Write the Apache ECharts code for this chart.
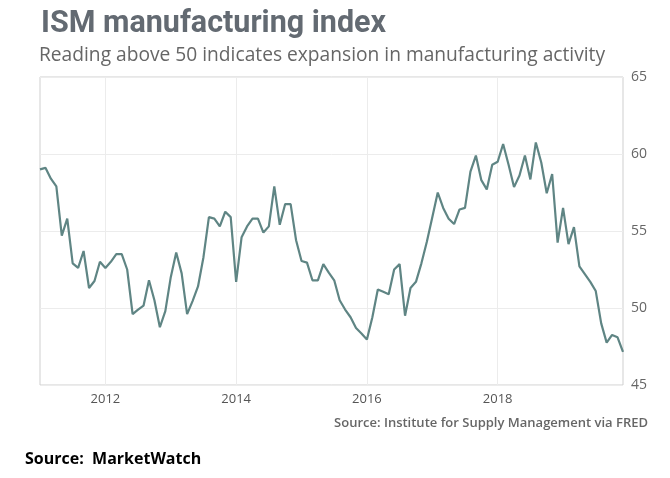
<!DOCTYPE html>
<html>
<head>
<meta charset="utf-8">
<script src="https://cdn.jsdelivr.net/npm/echarts@6/dist/echarts.min.js"></script>
<style>html,body{margin:0;padding:0;background:#fff}#c{width:670px;height:478px}</style>
</head>
<body>
<div id="c"></div>
<script>
// Monthly ISM manufacturing index, Jan 2011 - Dec 2019
const startYear = 2011;
const v2011 = [59.0, 59.1, 58.4, 57.9, 54.7, 55.8, 52.9, 52.6, 53.7, 51.3, 51.75, 53.0];
const v2012 = [52.6, 53.0, 53.5, 53.5, 52.5, 49.6, 49.9, 50.15, 51.8, 50.5, 48.75, 49.8];
const v2013 = [52.0, 53.6, 52.25, 49.6, 50.45, 51.4, 53.3, 55.9, 55.8, 55.3, 56.25, 55.9];
const v2014 = [51.7, 54.6, 55.3, 55.8, 55.8, 54.9, 55.3, 57.9, 55.4, 56.75, 56.75, 54.4];
const v2015 = [53.05, 52.95, 51.8, 51.8, 52.85, 52.3, 51.8, 50.5, 49.9, 49.4, 48.7, 48.35];
const v2016 = [47.95, 49.4, 51.2, 51.05, 50.9, 52.5, 52.85, 49.5, 51.3, 51.7, 52.9, 54.3];
const v2017 = [55.9, 57.5, 56.5, 55.8, 55.45, 56.4, 56.5, 58.85, 59.9, 58.3, 57.7, 59.3];
const v2018 = [59.5, 60.65, 59.3, 57.85, 58.6, 59.9, 58.35, 60.75, 59.45, 57.45, 58.7, 54.25];
const v2019 = [56.5, 54.15, 55.25, 52.7, 52.2, 51.7, 51.1, 49.0, 47.75, 48.25, 48.1, 47.15];
const labeledYears = [2012, 2014, 2016, 2018];
const yTicks = [45, 50, 55, 60, 65];

const values = [].concat(v2011, v2012, v2013, v2014, v2015, v2016, v2017, v2018, v2019);
const categories = values.map((_, i) => {
  const y = startYear + Math.floor(i / 12);
  const m = (i % 12) + 1;
  return y + '-' + (m < 10 ? '0' + m : m);
});
const isLabeled = (idx) => {
  const c = categories[idx];
  return c.endsWith('-01') && labeledYears.indexOf(+c.slice(0, 4)) >= 0;
};

const chart = echarts.init(document.getElementById('c'), null, {renderer: 'canvas'});
chart.setOption({
  animation: false,
  backgroundColor: '#fff',
  title: [
    {text: 'ISM manufacturing index', left: 36, top: 4,
     textStyle: {fontFamily: 'Roboto', fontWeight: 'bold', fontSize: 30.5, color: '#636a72'}},
    {text: 'Reading above 50 indicates expansion in manufacturing activity', left: 34, top: 41,
     textStyle: {fontFamily: 'Open Sans', fontWeight: 'normal', fontSize: 19.2, color: '#666'}},
    {text: 'Source: Institute for Supply Management via FRED', right: 17, top: 412,
     textStyle: {fontFamily: 'Open Sans', fontWeight: 600, fontSize: 13, color: '#666'}},
    {text: 'Source:  MarketWatch', left: 20, top: 446,
     textStyle: {fontFamily: 'Open Sans', fontWeight: 'bold', fontSize: 16, color: '#000'}}
  ],
  grid: {left: 40, right: 47, top: 77, bottom: 93, show: true, borderColor: '#cfcfcf', borderWidth: 1, containLabel: false},
  xAxis: {
    type: 'category', data: categories, boundaryGap: false,
    axisLine: {show: false}, axisTick: {show: false},
    axisLabel: {interval: (idx) => isLabeled(idx), formatter: (v) => v.slice(0, 4),
      color: '#555', fontSize: 13, fontFamily: 'Open Sans', margin: 8},
    splitLine: {show: true, interval: (idx) => isLabeled(idx), lineStyle: {color: '#ececec', width: 1}}
  },
  yAxis: {
    type: 'value', position: 'right', min: yTicks[0], max: yTicks[yTicks.length - 1], interval: 5,
    axisLine: {show: false}, axisTick: {show: false},
    axisLabel: {color: '#666', fontSize: 14, fontFamily: 'Open Sans', margin: 8},
    splitLine: {show: true, lineStyle: {color: '#ececec', width: 1}}
  },
  series: [{
    type: 'line', data: values, showSymbol: false, symbol: 'none',
    lineStyle: {color: '#5f8584', width: 2.2}
  }]
});
</script>
</body>
</html>
